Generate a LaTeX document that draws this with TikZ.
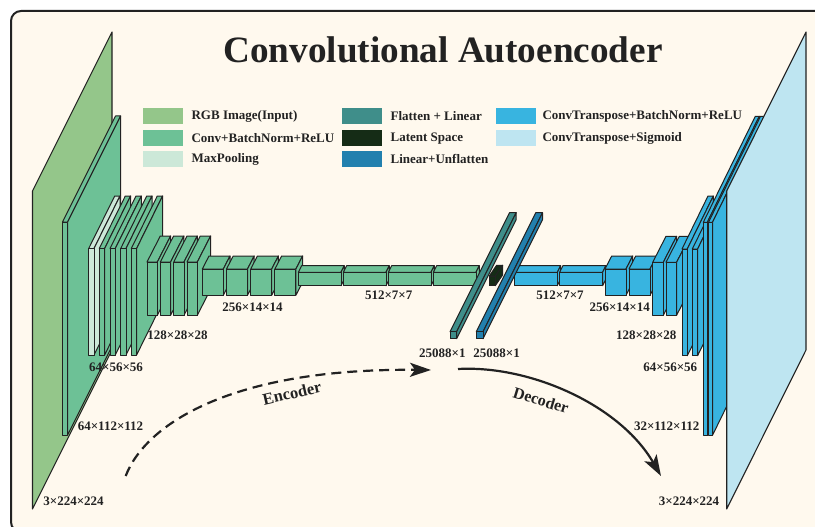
\documentclass[tikz,border=0pt]{standalone}
\usepackage{fontspec}
\setmainfont{Liberation Serif}
\usepackage{xcolor}
\definecolor{InputGreen}{HTML}{94C68A}
\definecolor{ConvGreen}{HTML}{6DC196}
\definecolor{PoolGreen}{HTML}{CCE8D8}
\definecolor{FlatTeal}{HTML}{3F8E8A}
\definecolor{LatentDark}{HTML}{152C16}
\definecolor{LinearBlue}{HTML}{2280AE}
\definecolor{DeconvBlue}{HTML}{38B4E0}
\definecolor{SigmoidBlue}{HTML}{BEE5F1}
\definecolor{PaperCream}{HTML}{FFF9EE}
\definecolor{InkDark}{HTML}{222222}
\usetikzlibrary{arrows.meta,positioning,calc}
% left, right, top, bottom, depth x, depth y, colour
\newcommand{\cuboid}[7]{
  \draw[edge,fill=#7] (#1,#3) -- ++(#5,#6) -- ++(#2-#1,0) -- (#2,#3) -- cycle;
  \draw[edge,fill=#7] (#2,#3) -- ++(#5,#6) -- ++(0,#4-#3) -- (#2,#4) -- cycle;
  \draw[edge,fill=#7] (#1,#3) rectangle (#2,#4);
}
\begin{document}
\begin{tikzpicture}[
  x=1pt,y=-1pt,
  edge/.style={draw=InkDark,line width=1pt,line join=round},
  sheet/.style={draw=InkDark,line width=1.1pt,line join=round},
  swatch/.style={minimum width=40pt,minimum height=16pt,inner sep=0pt,anchor=north west},
  legend/.style={font=\fontsize{13}{14}\selectfont\bfseries,text=InkDark,anchor=west,inner sep=0pt},
  dims/.style={font=\fontsize{13}{14}\selectfont\bfseries,text=InkDark,inner sep=0pt},
  flow/.style={line width=2.2pt,draw=InkDark,-{Stealth[length=21pt,width=14pt,inset=5pt]}}
]
  \useasboundingbox (0,0) rectangle (815,527);
  \draw[line width=2pt,draw=InkDark,fill=PaperCream,rounded corners=10pt] (11,11) rectangle (830,532);
  \node[font=\fontsize{37.2}{39}\selectfont\bfseries,text=InkDark,inner sep=0pt] (title) at (443,50) {Convolutional Autoencoder};

  % legend
  \node[swatch,fill=InputGreen] (s1) at (143,108) {};
  \node[swatch,fill=ConvGreen] (s2) at (143,130) {};
  \node[swatch,fill=PoolGreen] (s3) at (143,151) {};
  \node[swatch,fill=FlatTeal] (s4) at (342,108) {};
  \node[swatch,fill=LatentDark] (s5) at (342,130) {};
  \node[swatch,fill=LinearBlue] (s6) at (342,151) {};
  \node[swatch,fill=DeconvBlue] (s7) at (496,108) {};
  \node[swatch,fill=SigmoidBlue] (s8) at (496,130) {};
  \node[legend,right=8pt of s1] (t1) {RGB Image(Input)};
  \node[legend,right=8pt of s2] (t2) {Conv+BatchNorm+ReLU};
  \node[legend,right=8pt of s3] (t3) {MaxPooling};
  \node[legend,right=8pt of s4] (t4) {Flatten + Linear};
  \node[legend,right=8pt of s5] (t5) {Latent Space};
  \node[legend,right=8pt of s6] (t6) {Linear+Unflatten};
  \node[legend,right=6pt of s7] (t7) {ConvTranspose+BatchNorm+ReLU};
  \node[legend,right=6pt of s8] (t8) {ConvTranspose+Sigmoid};

  % encoder
  \draw[sheet,fill=InputGreen] (32.5,191) -- (112,32) -- (112,350) -- (32.5,509) -- cycle;
  \cuboid{62.5}{67.6}{222}{435}{53}{-106}{ConvGreen}
  \cuboid{88.7}{94}{248.5}{355}{26}{-52.5}{PoolGreen}
  \foreach \xa in {99.3,110,120.7,131.3}{
    \cuboid{\xa}{\xa+5.3}{248.5}{355}{26}{-52.5}{ConvGreen}
  }
  \foreach \xa in {147,160.3,173.7,187}{
    \cuboid{\xa}{\xa+10.3}{262}{315.3}{13.3}{-26}{ConvGreen}
  }
  \foreach \xa in {202.3,226.5,250.7,274.9}{
    \cuboid{\xa}{\xa+21}{269}{295.3}{6.7}{-13}{ConvGreen}
  }
  \foreach \xa in {298.3,343.3,388.3,433.3}{
    \cuboid{\xa}{\xa+42.7}{272.3}{285.7}{3.3}{-6.6}{ConvGreen}
  }

  % decoder boxes sit behind the linear bar
  \foreach \xa in {514.3,559.6}{
    \cuboid{\xa}{\xa+43}{272.3}{285.7}{3.3}{-6.6}{DeconvBlue}
  }
  % bottleneck
  \cuboid{450}{456.7}{331.7}{338.7}{59.5}{-119}{FlatTeal}
  \cuboid{489.3}{495.3}{276}{285.7}{7.3}{-10.7}{LatentDark}
  \cuboid{476.3}{483}{331.7}{338.7}{59.5}{-119}{LinearBlue}

  % decoder
  \foreach \xa in {605,629}{
    \cuboid{\xa}{\xa+21}{269}{295.3}{6.7}{-13}{DeconvBlue}
  }
  \foreach \xa in {652.7,666}{
    \cuboid{\xa}{\xa+10.6}{262.3}{315.3}{13.3}{-26}{DeconvBlue}
  }
  \foreach \xa in {682,692.3}{
    \cuboid{\xa}{\xa+5.3}{249}{355.7}{26}{-53}{DeconvBlue}
  }
  \foreach \xa in {703.3,708.5}{
    \cuboid{\xa}{\xa+4}{222.3}{435.3}{52}{-106}{DeconvBlue}
  }
  \draw[sheet,fill=SigmoidBlue] (726.7,191) -- (806,32) -- (806,350) -- (726.7,509) -- cycle;

  % sizes
  \node[dims] (d1) at (73.5,501.7) {3×224×224};
  \node[dims] (d2) at (110.5,426.7) {64×112×112};
  \node[dims] (d3) at (116,367.7) {64×56×56};
  \node[dims] (d4) at (177.5,335) {128×28×28};
  \node[dims] (d5) at (252.5,307.5) {256×14×14};
  \node[dims] (d6) at (388.7,295) {512×7×7};
  \node[dims] (d7) at (442.3,353.3) {25088×1};
  \node[dims] (d8) at (496.7,353.3) {25088×1};
  \node[dims] (d9) at (560,295) {512×7×7};
  \node[dims] (d10) at (619.7,307.7) {256×14×14};
  \node[dims] (d11) at (646.3,335) {128×28×28};
  \node[dims] (d12) at (670.3,367.7) {64×56×56};
  \node[dims] (d13) at (666.7,426.7) {32×112×112};
  \node[dims] (d14) at (689,501.7) {3×224×224};

  % flow arrows
  \coordinate (encA) at (125.7,476);
  \coordinate (encB) at (431,370);
  \coordinate (decA) at (458,369);
  \coordinate (decB) at (661,476);
  \draw[flow,dash pattern=on 10pt off 6pt] (encA) .. controls (145,425) and (230,368) .. (encB);
  \draw[flow] (decA) .. controls (530,365) and (620,405) .. (decB);
  \node[font=\fontsize{16.5}{17}\selectfont\bfseries,text=InkDark,rotate=13,inner sep=0pt] (enc) at (292,393) {Encoder};
  \node[font=\fontsize{16}{17}\selectfont\bfseries,text=InkDark,rotate=-17,inner sep=0pt] (dec) at (541,400.5) {Decoder};
\end{tikzpicture}
\end{document}
